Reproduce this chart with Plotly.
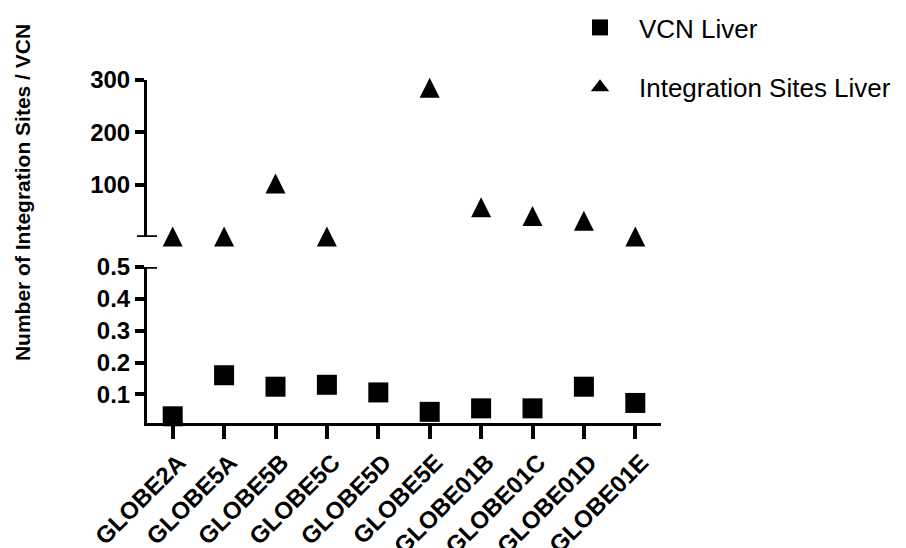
import plotly.graph_objects as go

# Liver samples, vector copy number and integration-site counts
samples = ["GLOBE2A", "GLOBE5A", "GLOBE5B", "GLOBE5C", "GLOBE5D",
           "GLOBE5E", "GLOBE01B", "GLOBE01C", "GLOBE01D", "GLOBE01E"]
vcn_liver = [0.031, 0.160, 0.124, 0.130, 0.106, 0.045, 0.056, 0.056, 0.124, 0.073]
integration_sites_liver = [1, 1, 102, 1, None, 285, 57, 40, 31, 1]

upper_ticks = [100, 200, 300]
lower_ticks = [0.1, 0.2, 0.3, 0.4, 0.5]

FONT = "Liberation Sans, Arial, Helvetica, sans-serif"
BLACK = "#000000"

fig = go.Figure()

fig.add_trace(go.Scatter(
    x=samples, y=vcn_liver, name="VCN Liver",
    mode="markers", xaxis="x", yaxis="y",
    marker=dict(symbol="square", size=20, color=BLACK, line=dict(width=0)),
    cliponaxis=False, legendgroup="vcn",
))

# upward triangle of equal width and height, centred on the value
fig.add_trace(go.Scatter(
    x=samples, y=integration_sites_liver, name="Integration Sites Liver",
    mode="markers", xaxis="x2", yaxis="y2",
    marker=dict(symbol="arrow-down", angle=180, standoff=10, size=20,
                color=BLACK, line=dict(width=0)),
    cliponaxis=False, legendgroup="is", showlegend=False,
))

# legend entry for the triangles
fig.add_trace(go.Scatter(
    x=[None], y=[None], name="Integration Sites Liver",
    mode="markers", xaxis="x2", yaxis="y2",
    marker=dict(symbol="triangle-up", size=16, color=BLACK, line=dict(width=0)),
    legendgroup="is", showlegend=True,
))

axis_common = dict(
    showline=True, linecolor=BLACK, linewidth=3,
    ticks="outside", tickcolor=BLACK, tickwidth=3.5,
    showgrid=False, zeroline=False, automargin=False,
    tickfont=dict(family=FONT, size=24, color=BLACK, weight="bold"),
)

fig.update_layout(
    width=906, height=548,
    margin=dict(l=147, r=245, t=80, b=125, autoexpand=False),
    paper_bgcolor="white", plot_bgcolor="white",
    font=dict(family=FONT, color=BLACK),
    xaxis=dict(
        domain=[0, 1], anchor="y", range=[-0.5, 9.5],
        showline=True, linecolor=BLACK, linewidth=3,
        ticks="outside", tickcolor=BLACK, tickwidth=3.5, ticklen=13,
        tickangle=-45, showgrid=False, zeroline=False, automargin=False,
        ticklabelshift=6,
        tickfont=dict(family=FONT, size=24, color=BLACK, weight="bold"),
    ),
    xaxis2=dict(domain=[0, 1], anchor="y2", matches="x", visible=False),
    yaxis=dict(
        domain=[0, 0.4548], anchor="x", range=[0.01, 0.5],
        tickvals=lower_ticks, ticktext=[f"{v:.1f}" for v in lower_ticks],
        ticklen=9, **axis_common,
    ),
    yaxis2=dict(
        domain=[0.5423, 1], anchor="x2", range=[0, 300],
        tickvals=upper_ticks, ticklen=9, **axis_common,
    ),
    showlegend=True,
    legend=dict(
        xref="container", yref="container",
        x=0.6192, xanchor="left", y=0.9927, yanchor="top",
        font=dict(family=FONT, size=26, color=BLACK),
        itemwidth=68, tracegroupgap=23, bgcolor="rgba(0,0,0,0)",
    ),
    annotations=[dict(
        text="Number of Integration Sites / VCN",
        xref="paper", yref="paper", x=-0.241, y=0.6706,
        xanchor="center", yanchor="middle", textangle=-90, showarrow=False,
        font=dict(family=FONT, size=21, color=BLACK, weight="bold"),
    )],
    shapes=[
        # axis-break caps at the ends of the split y axis
        dict(type="line", xref="x domain", xsizemode="pixel", xanchor=0,
             x0=-10, x1=10, yref="y2", y0=0, y1=0,
             line=dict(color=BLACK, width=3.5)),
        dict(type="line", xref="x domain", xsizemode="pixel", xanchor=0,
             x0=-10, x1=10, yref="y", y0=0.5, y1=0.5,
             line=dict(color=BLACK, width=3.5)),
    ],
)

fig.write_html("out.html")
